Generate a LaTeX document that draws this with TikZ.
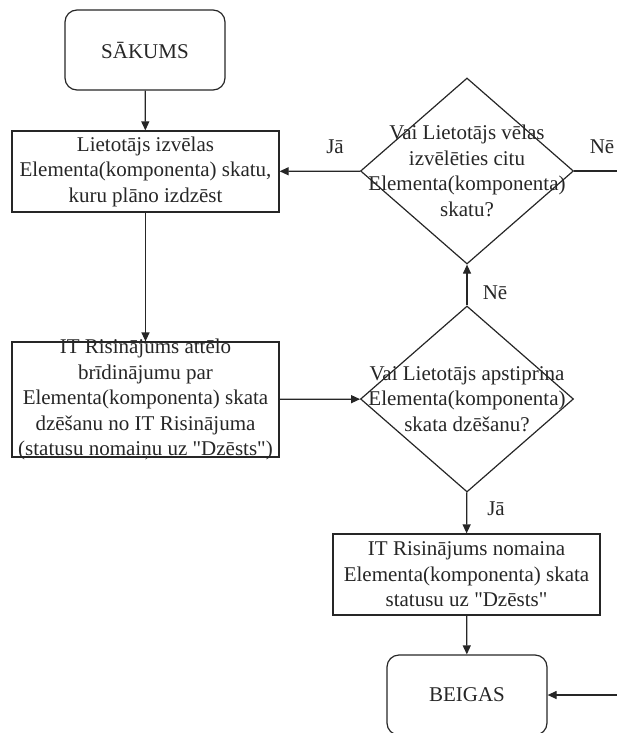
\documentclass[tikz,border=0pt]{standalone}
\usepackage{fontspec}
\setmainfont{Liberation Serif}[Ligatures=TeXOff]
\usetikzlibrary{shapes.geometric,arrows.meta}
\begin{document}
\begin{tikzpicture}[x=1pt,y=-1pt,
  every node/.style={font=\fontsize{21}{25.5}\selectfont, text=black!85},
  line/.style={draw=black!85, line width=1.2pt},
  arr/.style={line, -{Triangle[length=9pt,width=8pt]}},
  term/.style={line, rectangle, rounded corners=12pt, minimum width=160pt, minimum height=80pt, inner sep=0pt, align=center},
  proc/.style={line, rectangle, minimum width=267pt, inner sep=0pt, align=center},
  dec/.style={line, diamond, inner sep=0pt, minimum width=213pt, minimum height=186pt},
  lbl/.style={inner sep=0pt}
]
\useasboundingbox (0,0) rectangle (617,733);
\node[term] (start) at (145,50) {SĀKUMS};
\node[proc, minimum height=81pt] (b1) at (145.5,171.5) {};
\node[align=center] at (b1) {Lietotājs izvēlas\\Elementa(komponenta) skatu,\\kuru plāno izdzēst};
\node[dec] (d1) at (467,171) {};
\node[align=center] at (d1) {Vai Lietotājs vēlas\\izvēlēties citu\\Elementa(komponenta)\\skatu?};
\node[proc, minimum height=115pt] (b2) at (145.5,399.5) {};
\node[align=center] at (b2) {IT Risinājums attēlo\\brīdinājumu par\\Elementa(komponenta) skata\\dzēšanu no IT Risinājuma\\(statusu nomaiņu uz "Dzēsts")};
\node[dec] (d2) at (467,399) {};
\node[align=center] at (d2) {Vai Lietotājs apstiprina\\Elementa(komponenta)\\skata dzēšanu?};
\node[proc, minimum height=81pt] (b3) at (466.5,574.5) {};
\node[align=center] at (b3) {IT Risinājums nomaina\\Elementa(komponenta) skata\\statusu uz "Dzēsts"};
\node[term] (end) at (467,695) {BEIGAS};
\coordinate (nright) at (617,171);
\coordinate (eright) at (617,695);

\draw[arr] (start) -- (b1);
\draw[arr] (b1) -- (b2);
\draw[arr] (b2) -- (d2);
\draw[arr] (d2) -- (d1);
\draw[arr] (d1) -- (b1);
\draw[line] (d1.east) -- (nright);
\draw[arr] (d2) -- (b3);
\draw[arr] (b3) -- (end);
\draw[arr] (eright) -- (end);

\node[lbl] (l1) at (335,147) {Jā};
\node[lbl] (l2) at (602,147) {Nē};
\node[lbl] (l3) at (495,293) {Nē};
\node[lbl] (l4) at (496,509) {Jā};
\end{tikzpicture}
\end{document}
